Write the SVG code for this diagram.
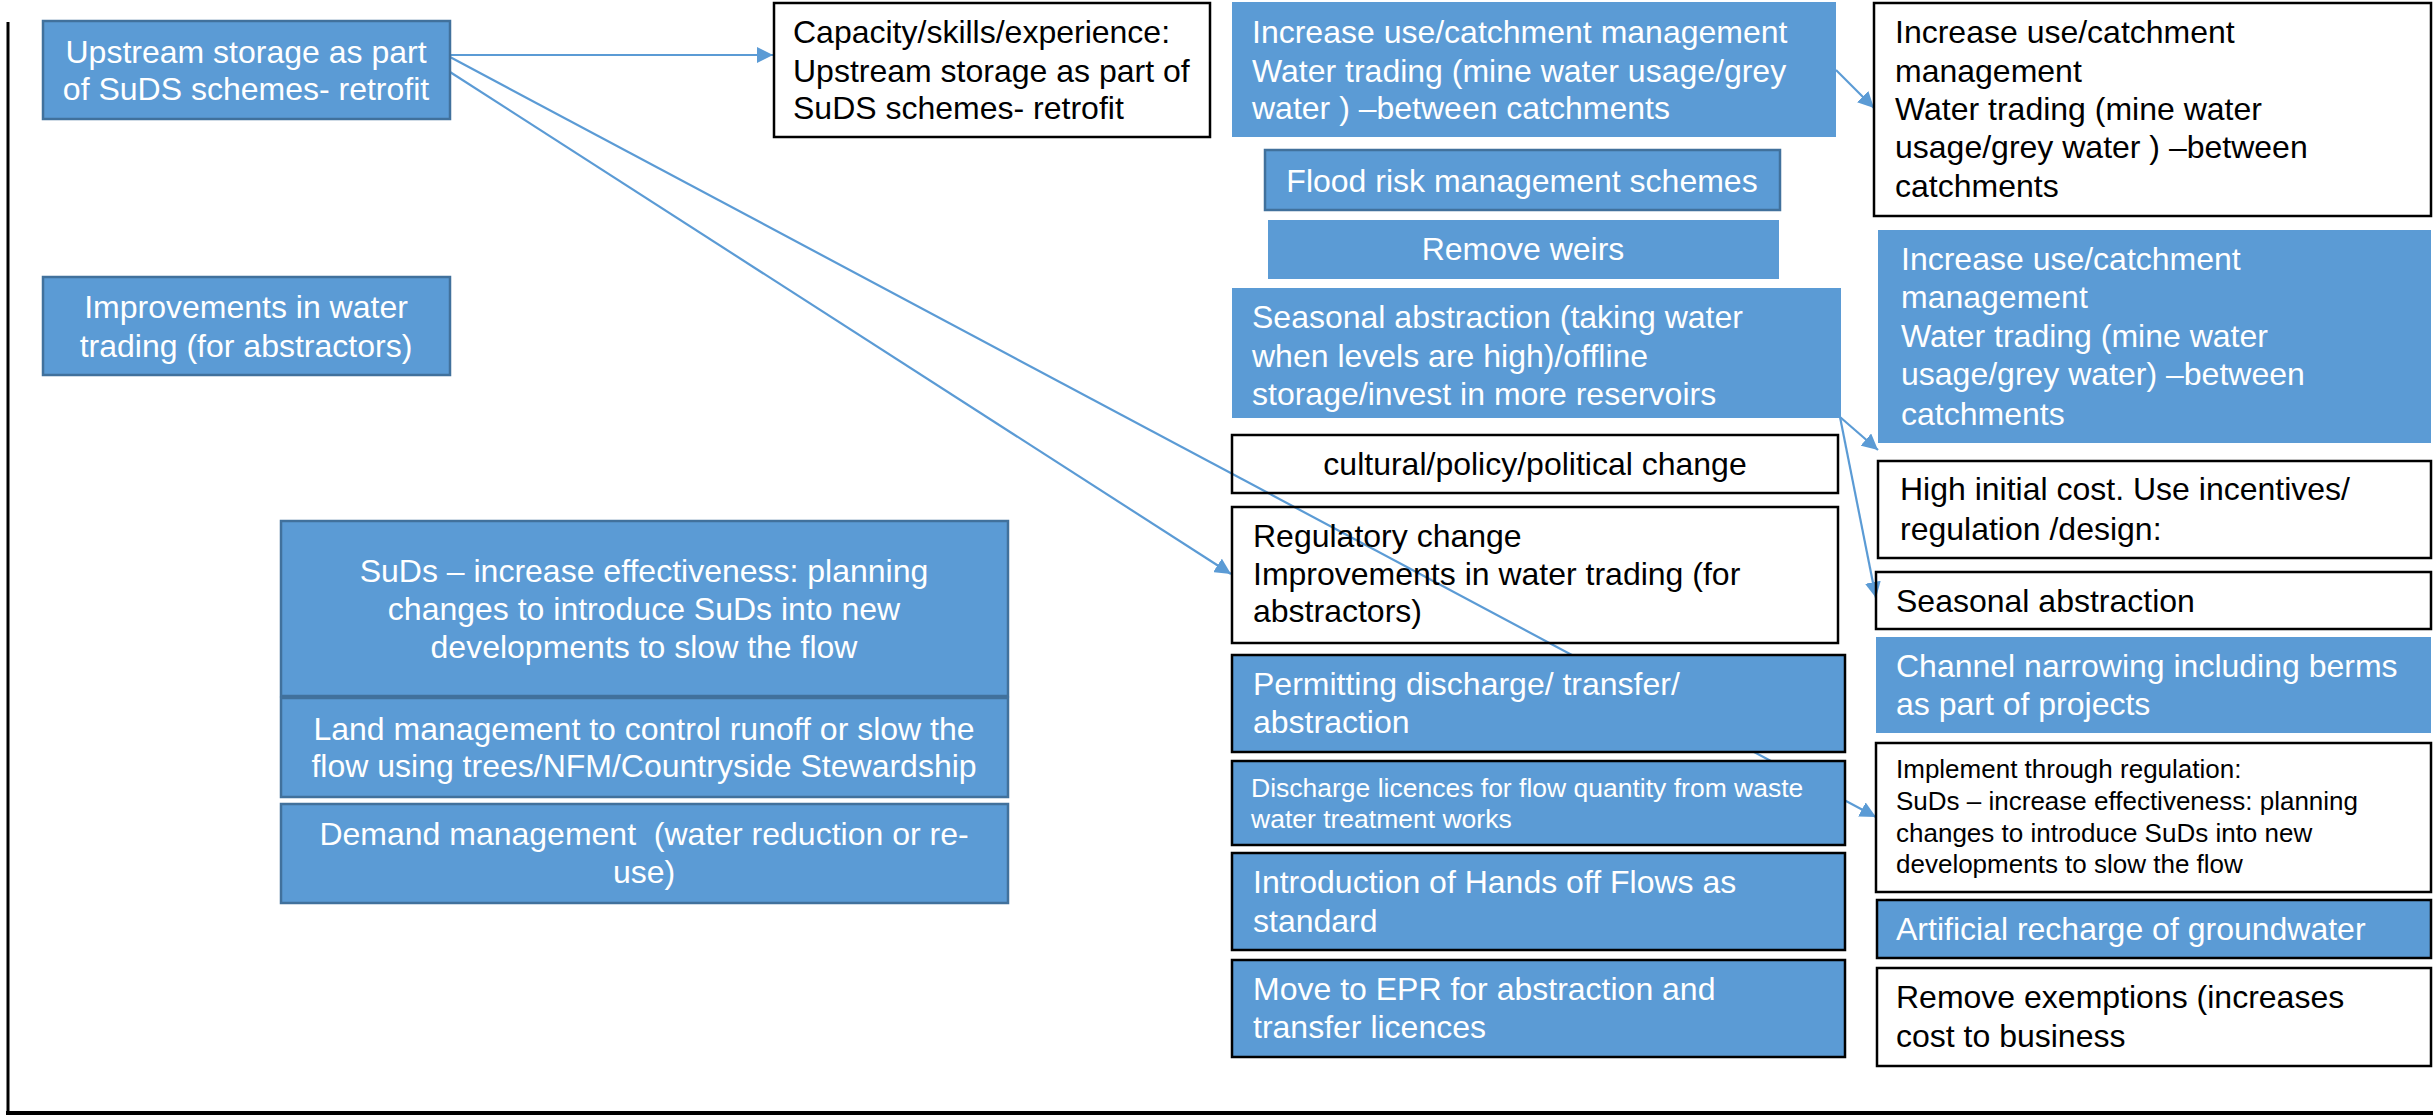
<svg xmlns="http://www.w3.org/2000/svg" width="2433" height="1117" viewBox="0 0 2433 1117">
  <style>
    text { font-family: "Liberation Sans", Arial, sans-serif; font-size: 32px; }
    .sm { font-size: 26px; }
    .sm2 { font-size: 26.5px; }
    .w { fill: #ffffff; }
    .k { fill: #000000; }
    .mid { text-anchor: middle; }
    .blue { fill: #5B9BD5; }
    .blue-b { fill: #5B9BD5; stroke: #41719C; stroke-width: 2.5; }
    .blue-k { fill: #5B9BD5; stroke: #000000; stroke-width: 2.5; }
    .plain { fill: none; stroke: #000000; stroke-width: 2.5; }
    .conn { fill: none; stroke: #5B9BD5; stroke-width: 2.2; marker-end: url(#arrow); }
    .frame { stroke: #000000; fill: none; }
  </style>
  <defs>
    <marker id="arrow" markerUnits="userSpaceOnUse" markerWidth="18" markerHeight="16" refX="16" refY="8" orient="auto">
      <path d="M0,0 L16,8 L0,16 z" fill="#5B9BD5"/>
    </marker>
  </defs>

  <rect width="2433" height="1117" fill="#ffffff"/>

  <!-- page frame: left rule and bottom rule -->
  <line class="frame" x1="8" y1="22" x2="8" y2="1113" stroke-width="3"/>
  <line class="frame" x1="6" y1="1113" x2="2433" y2="1113" stroke-width="4"/>

  <!-- connectors (drawn beneath the boxes) -->
  <g id="connectors">
    <line class="conn" x1="450" y1="55" x2="773" y2="55"/>
    <line class="conn" x1="450" y1="57" x2="1876" y2="817"/>
    <line class="conn" x1="450" y1="72" x2="1231" y2="574"/>
    <line class="conn" x1="1836" y1="70" x2="1874" y2="108"/>
    <line class="conn" x1="1840" y1="417" x2="1878" y2="450"/>
    <line class="conn" x1="1840" y1="417" x2="1876" y2="598"/>
  </g>

  <g id="upstream-storage">
    <rect class="blue-b" x="43" y="21" width="407" height="98"/>
    <text class="w mid" x="246" y="63">Upstream storage as part</text>
    <text class="w mid" x="246" y="100">of SuDS schemes- retrofit</text>
  </g>

  <g id="improvements-trading">
    <rect class="blue-b" x="43" y="277" width="407" height="98"/>
    <text class="w mid" x="246" y="318">Improvements in water</text>
    <text class="w mid" x="246" y="357">trading (for abstractors)</text>
  </g>

  <g id="capacity">
    <rect class="plain" x="774" y="3" width="436" height="134"/>
    <text class="k" x="793" y="43">Capacity/skills/experience:</text>
    <text class="k" x="793" y="82">Upstream storage as part of</text>
    <text class="k" x="793" y="119">SuDS schemes- retrofit</text>
  </g>

  <g id="increase-use-1">
    <rect class="blue" x="1232" y="2" width="604" height="135"/>
    <text class="w" x="1252" y="43">Increase use/catchment management</text>
    <text class="w" x="1252" y="82">Water trading (mine water usage/grey</text>
    <text class="w" x="1252" y="119">water ) –between catchments</text>
  </g>

  <g id="increase-use-note">
    <rect class="plain" x="1874" y="3" width="557" height="213"/>
    <text class="k" x="1895" y="43">Increase use/catchment</text>
    <text class="k" x="1895" y="82">management</text>
    <text class="k" x="1895" y="120">Water trading (mine water</text>
    <text class="k" x="1895" y="158">usage/grey water ) –between</text>
    <text class="k" x="1895" y="197">catchments</text>
  </g>

  <g id="flood-risk">
    <rect class="blue-b" x="1265" y="150" width="515" height="60"/>
    <text class="w mid" x="1522" y="192">Flood risk management schemes</text>
  </g>

  <g id="remove-weirs">
    <rect class="blue" x="1268" y="220" width="511" height="59"/>
    <text class="w mid" x="1523" y="260">Remove weirs</text>
  </g>

  <g id="seasonal-abstraction">
    <rect class="blue" x="1232" y="288" width="609" height="130"/>
    <text class="w" x="1252" y="328">Seasonal abstraction (taking water</text>
    <text class="w" x="1252" y="367">when levels are high)/offline</text>
    <text class="w" x="1252" y="405">storage/invest in more reservoirs</text>
  </g>

  <g id="increase-use-2">
    <rect class="blue" x="1878" y="230" width="553" height="213"/>
    <text class="w" x="1901" y="270">Increase use/catchment</text>
    <text class="w" x="1901" y="308">management</text>
    <text class="w" x="1901" y="347">Water trading (mine water</text>
    <text class="w" x="1901" y="385">usage/grey water) –between</text>
    <text class="w" x="1901" y="425">catchments</text>
  </g>

  <g id="cultural-change">
    <rect class="plain" x="1232" y="435" width="606" height="58"/>
    <text class="k mid" x="1535" y="475">cultural/policy/political change</text>
  </g>

  <g id="regulatory-change">
    <rect class="plain" x="1232" y="507" width="606" height="136"/>
    <text class="k" x="1253" y="547">Regulatory change</text>
    <text class="k" x="1253" y="585">Improvements in water trading (for</text>
    <text class="k" x="1253" y="622">abstractors)</text>
  </g>

  <g id="permitting">
    <rect class="blue-k" x="1232" y="655" width="613" height="97"/>
    <text class="w" x="1253" y="695">Permitting discharge/ transfer/</text>
    <text class="w" x="1253" y="733">abstraction</text>
  </g>

  <g id="discharge-licences">
    <rect class="blue-k" x="1232" y="761" width="613" height="84"/>
    <text class="w sm2" x="1251" y="797">Discharge licences for flow quantity from waste</text>
    <text class="w sm2" x="1251" y="828">water treatment works</text>
  </g>

  <g id="hands-off-flows">
    <rect class="blue-k" x="1232" y="853" width="613" height="97"/>
    <text class="w" x="1253" y="893">Introduction of Hands off Flows as</text>
    <text class="w" x="1253" y="932">standard</text>
  </g>

  <g id="move-to-epr">
    <rect class="blue-k" x="1232" y="960" width="613" height="97"/>
    <text class="w" x="1253" y="1000">Move to EPR for abstraction and</text>
    <text class="w" x="1253" y="1038">transfer licences</text>
  </g>

  <g id="high-initial-cost">
    <rect class="plain" x="1878" y="461" width="553" height="97"/>
    <text class="k" x="1900" y="500">High initial cost. Use incentives/</text>
    <text class="k" x="1900" y="540">regulation /design:</text>
  </g>

  <g id="seasonal-abstraction-note">
    <rect class="plain" x="1876" y="572" width="555" height="57"/>
    <text class="k" x="1896" y="612">Seasonal abstraction</text>
  </g>

  <g id="channel-narrowing">
    <rect class="blue" x="1876" y="637" width="555" height="96"/>
    <text class="w" x="1896" y="677">Channel narrowing including berms</text>
    <text class="w" x="1896" y="715">as part of projects</text>
  </g>

  <g id="implement-regulation">
    <rect fill="#ffffff" stroke="#000000" stroke-width="2.5" x="1876" y="743" width="555" height="149"/>
    <text class="k sm" x="1896" y="778">Implement through regulation:</text>
    <text class="k sm" x="1896" y="810">SuDs – increase effectiveness: planning</text>
    <text class="k sm" x="1896" y="842">changes to introduce SuDs into new</text>
    <text class="k sm" x="1896" y="873">developments to slow the flow</text>
  </g>

  <g id="artificial-recharge">
    <rect class="blue-k" x="1877" y="900" width="554" height="58"/>
    <text class="w" x="1896" y="940">Artificial recharge of groundwater</text>
  </g>

  <g id="remove-exemptions">
    <rect class="plain" x="1877" y="968" width="554" height="98"/>
    <text class="k" x="1896" y="1008">Remove exemptions (increases</text>
    <text class="k" x="1896" y="1047">cost to business</text>
  </g>

  <g id="suds-effectiveness">
    <rect class="blue-b" x="281" y="521" width="727" height="175"/>
    <text class="w mid" x="644" y="582">SuDs – increase effectiveness: planning</text>
    <text class="w mid" x="644" y="620">changes to introduce SuDs into new</text>
    <text class="w mid" x="644" y="658">developments to slow the flow</text>
  </g>

  <g id="land-management">
    <rect class="blue-b" x="281" y="698" width="727" height="99"/>
    <text class="w mid" x="644" y="740">Land management to control runoff or slow the</text>
    <text class="w mid" x="644" y="777">flow using trees/NFM/Countryside Stewardship</text>
  </g>

  <g id="demand-management">
    <rect class="blue-b" x="281" y="804" width="727" height="99"/>
    <text class="w mid" x="644" y="845" xml:space="preserve">Demand management  (water reduction or re-</text>
    <text class="w mid" x="644" y="883">use)</text>
  </g>
</svg>
